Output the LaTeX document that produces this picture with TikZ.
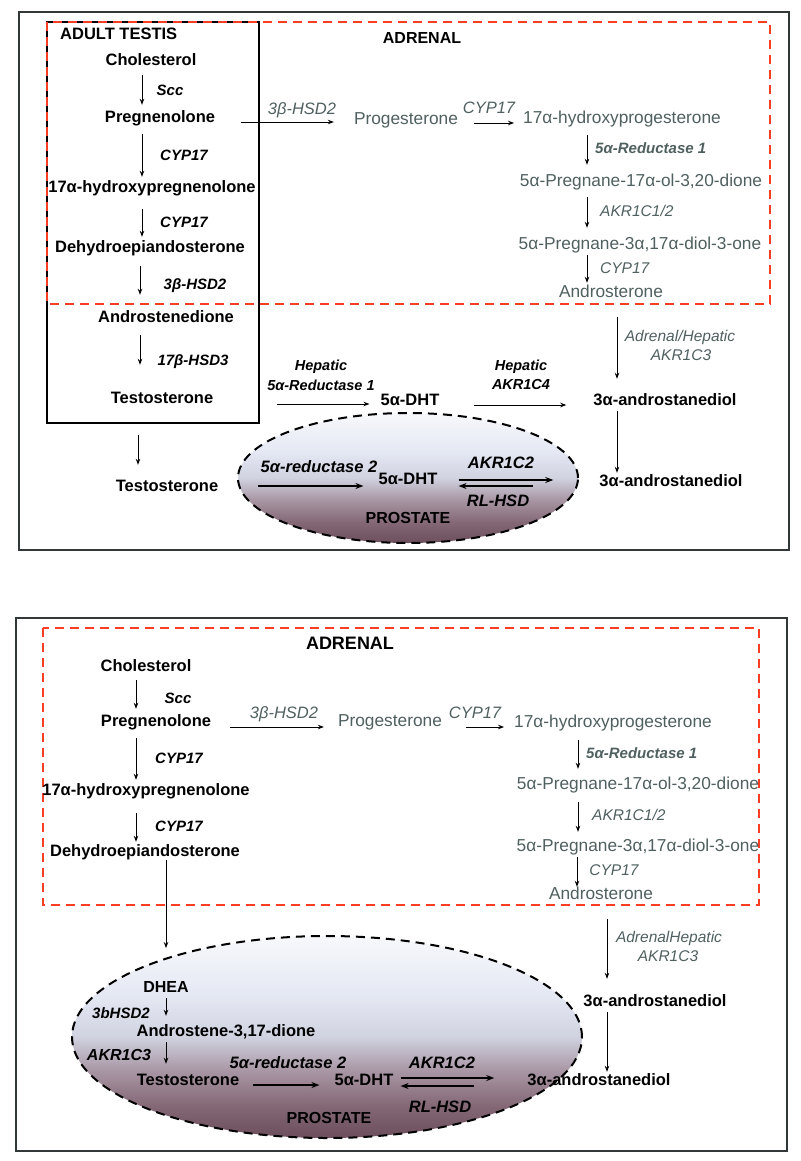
\documentclass[tikz,border=0pt]{standalone}
\usepackage{fontspec}
\setmainfont{Liberation Sans}
\usetikzlibrary{arrows.meta,shapes.geometric}
\definecolor{gtxt}{RGB}{80,96,96}
\definecolor{redd}{RGB}{250,62,35}
\definecolor{framec}{RGB}{50,55,55}
\definecolor{p0}{RGB}{108,78,92}
\definecolor{p1}{RGB}{132,104,118}
\definecolor{p2}{RGB}{170,152,166}
\definecolor{p3}{RGB}{208,210,224}
\definecolor{p4}{RGB}{228,232,243}
\definecolor{p5}{RGB}{247,248,251}
\pgfdeclareverticalshading{prost}{100bp}{color(0bp)=(p0); color(25bp)=(p0); color(33bp)=(p1); color(42bp)=(p2); color(50bp)=(p3); color(60bp)=(p4); color(75bp)=(p5); color(100bp)=(p5)}
\tikzset{
  cmp/.style={font=\bfseries\fontsize{16.5}{18}\selectfont, inner sep=0pt, text height=12pt, text depth=3.5pt},
  gcmp/.style={font=\fontsize{17.3}{19}\selectfont, text=gtxt, inner sep=0pt, text height=12pt, text depth=3.5pt},
  enz/.style={font=\bfseries\itshape\fontsize{15}{17}\selectfont, inner sep=0pt},
  penz/.style={font=\bfseries\itshape\fontsize{16.5}{18}\selectfont, inner sep=0pt},
  genz/.style={font=\itshape\fontsize{15.5}{17}\selectfont, text=gtxt, inner sep=0pt},
  genzh/.style={font=\itshape\fontsize{16.5}{18}\selectfont, text=gtxt, inner sep=0pt},
  genzb/.style={font=\bfseries\itshape\fontsize{15}{17}\selectfont, text=gtxt, inner sep=0pt},
  ttl/.style={font=\bfseries\fontsize{16.5}{18}\selectfont, inner sep=0pt},
  arr/.style={-{Stealth[length=6pt,width=4.5pt]}, line width=0.9pt},
  tarr/.style={-{Stealth[length=8pt,width=6pt]}, line width=2pt},
  redbox/.style={draw=redd, line width=1.8pt, dash pattern=on 9pt off 6pt},
  outerbox/.style={draw=framec, line width=1.3pt},
  prostbox/.style={ellipse, inner sep=0pt, draw=black, line width=2pt, dash pattern=on 9pt off 6pt, shade, shading=prost}
}
\begin{document}
\begin{tikzpicture}[x=1pt,y=-1pt]
\useasboundingbox (0,0) rectangle (800,1161);
\fill[white] (0,0) rectangle (800,1161);

%% ================= TOP PANEL =================
\draw[outerbox] (19,12) rectangle (789,550);
\draw[black, line width=2pt] (47,22) rectangle (259,423);
\draw[redbox] (47,22) rectangle (770,304);
\node[prostbox, minimum width=340pt, minimum height=130pt] (pros1) at (408,478) {};

\node[ttl, anchor=west] (testis) at (60,34) {ADULT TESTIS};
\node[ttl, font=\bfseries\fontsize{16}{18}\selectfont] (adr1) at (422,38) {ADRENAL};

\node[cmp] (chol1) at (151,61) {Cholesterol};
\node[cmp] (preg1) at (160,118) {Pregnenolone};
\node[cmp] (ohpreg1) at (152,188) {17α-hydroxypregnenolone};
\node[cmp] (dhea1) at (150,248) {Dehydroepiandosterone};
\node[cmp] (andro1) at (166,318) {Androstenedione};
\node[cmp] (testo1) at (162,399) {Testosterone};
\node[cmp] (testo1b) at (167,487) {Testosterone};

\node[enz] (e1) at (170,90) {Scc};
\node[enz] (e2) at (184,155) {CYP17};
\node[enz] (e3) at (184,222) {CYP17};
\node[enz] (e4) at (195,286) {3β-HSD2};
\node[enz] (e5) at (193,362) {17β-HSD3};

\coordinate (xa) at (142,0);
\coordinate (xb) at (140,0);
\coordinate (xc) at (138,0);
\draw[arr, shorten <=6.25pt, shorten >=5.25pt] (chol1.south -| xa) -- (preg1.north -| xa);
\draw[arr, shorten <=8.25pt, shorten >=3.25pt] (preg1.south -| xa) -- (ohpreg1.north -| xa);
\draw[arr, shorten <=13.25pt, shorten >=3.25pt] (ohpreg1.south -| xa) -- (dhea1.north -| xa);
\draw[arr, shorten <=10.25pt, shorten >=15.25pt] (dhea1.south -| xb) -- (andro1.north -| xb);
\draw[arr, shorten <=9.25pt, shorten >=26.25pt] (andro1.south -| xb) -- (testo1.north -| xb);
\draw[arr, shorten <=28.25pt, shorten >=14.25pt] (testo1.south -| xc) -- (testo1b.north -| xc);

% adrenal (grey) pathway
\node[gcmp] (prog1) at (406,120) {Progesterone};
\node[gcmp] (ohprog1) at (622,119) {17α-hydroxyprogesterone};
\node[gcmp] (pdione1) at (641,182) {5α-Pregnane-17α-ol-3,20-dione};
\node[gcmp] (pdiol1) at (640,245) {5α-Pregnane-3α,17α-diol-3-one};
\node[gcmp] (androst1) at (611,293) {Androsterone};

\node[genzh] (g1) at (302,110) {3β-HSD2};
\node[genzh] (g2) at (489,108) {CYP17};
\node[genzb, anchor=west] (g3) at (595,148) {5α-Reductase 1};
\node[genz, anchor=west] (g4) at (600,211) {AKR1C1/2};
\node[genz, anchor=west] (g5) at (600,268) {CYP17};
\node[genz] (g6) at (680,337) {Adrenal/Hepatic};
\node[genz] (g7) at (681,355) {AKR1C3};

\coordinate (ya) at (0,122);
\coordinate (yb) at (0,123);
\coordinate (xd) at (587,0);
\coordinate (xe) at (617,0);
\draw[arr, shorten <=26pt, shorten >=20pt] (preg1.east |- ya) -- (prog1.west |- ya);
\draw[arr, shorten <=16pt, shorten >=9pt] (prog1.east |- yb) -- (ohprog1.west |- yb);
\draw[arr, shorten <=8.25pt, shorten >=9.25pt] (ohprog1.south -| xd) -- (pdione1.north -| xd);
\draw[arr, shorten <=7.25pt, shorten >=9.25pt] (pdione1.south -| xd) -- (pdiol1.north -| xd);
\draw[arr, shorten <=2.25pt, shorten >=2.25pt] (pdiol1.south -| xd) -- (androst1.north -| xd);

\node[cmp] (aad1) at (665,401) {3α-androstanediol};
\node[cmp] (aad2) at (671,482) {3α-androstanediol};
\draw[arr, shorten <=16.25pt, shorten >=14.25pt] (androst1.south -| xe) -- (aad1.north -| xe);
\draw[arr, shorten <=2.25pt, shorten >=1.25pt] (aad1.south -| xe) -- (aad2.north -| xe);

\node[enz, font=\bfseries\itshape\fontsize{14.5}{16}\selectfont] (h1) at (321,367) {Hepatic};
\node[enz, font=\bfseries\itshape\fontsize{14.5}{16}\selectfont] (h2) at (321,385) {5α-Reductase 1};
\node[enz, font=\bfseries\itshape\fontsize{14.5}{16}\selectfont] (h3) at (521,367) {Hepatic};
\node[enz, font=\bfseries\itshape\fontsize{14.5}{16}\selectfont] (h4) at (521,385) {AKR1C4};
\node[cmp] (dht1) at (410,401) {5α-DHT};
\coordinate (yc) at (0,404);
\coordinate (yd) at (0,405);
\draw[arr, shorten <=64pt, shorten >=11pt] (testo1.east |- yc) -- (dht1.west |- yc);
\draw[arr, shorten <=34pt, shorten >=27pt] (dht1.east |- yd) -- (aad1.west |- yd);

% prostate (top)
\node[cmp] (dht2) at (408,480) {5α-DHT};
\node[penz] (p1) at (319,467) {5α-reductase 2};
\node[penz] (p2) at (501,463) {AKR1C2};
\node[penz] (p3) at (498,501) {RL-HSD};
\node[ttl, font=\bfseries\fontsize{16}{18}\selectfont] (pl1) at (408,518) {PROSTATE};
\coordinate (ye) at (0,486);
\coordinate (yf) at (0,480);
\draw[tarr, shorten <=40pt, shorten >=15pt] (testo1b.east |- ye) -- (dht2.west |- ye);
\draw[tarr, shorten <=21pt, shorten >=46pt] (dht2.east |- yf) -- (aad2.west |- yf);
\draw[tarr, shorten <=66pt, shorten >=21pt] (aad2.west |- ye) -- (dht2.east |- ye);

%% ================= BOTTOM PANEL =================
\draw[outerbox] (16,618) rectangle (787,1151);
\draw[redbox] (43,628) rectangle (759,905);
\node[prostbox, minimum width=510pt, minimum height=202pt] (pros2) at (327,1037) {};

\node[ttl, font=\bfseries\fontsize{18}{20}\selectfont] (adr2) at (350,643) {ADRENAL};

\node[cmp] (chol2) at (146,667) {Cholesterol};
\node[cmp] (preg2) at (156,722) {Pregnenolone};
\node[cmp] (ohpreg2) at (146,791) {17α-hydroxypregnenolone};
\node[cmp] (dhea2) at (145,852) {Dehydroepiandosterone};
\node[enz] (f1) at (178,698) {Scc};
\node[enz] (f2) at (179,758) {CYP17};
\node[enz] (f3) at (179,826) {CYP17};
\coordinate (xf) at (136,0);
\coordinate (xg) at (166,0);
\draw[arr, shorten <=5.25pt, shorten >=5.25pt] (chol2.south -| xf) -- (preg2.north -| xf);
\draw[arr, shorten <=8.25pt, shorten >=3.25pt] (preg2.south -| xf) -- (ohpreg2.north -| xf);
\draw[arr, shorten <=14.25pt, shorten >=2.25pt] (ohpreg2.south -| xf) -- (dhea2.north -| xf);

\node[gcmp] (prog2) at (390,722) {Progesterone};
\node[gcmp] (ohprog2) at (613,723) {17α-hydroxyprogesterone};
\node[gcmp] (pdione2) at (638,785) {5α-Pregnane-17α-ol-3,20-dione};
\node[gcmp] (pdiol2) at (638,847) {5α-Pregnane-3α,17α-diol-3-one};
\node[gcmp] (androst2) at (601,895) {Androsterone};
\node[genzh] (k1) at (284,714) {3β-HSD2};
\node[genzh] (k2) at (475,713) {CYP17};
\node[genzb, anchor=west] (k3) at (586,753) {5α-Reductase 1};
\node[genz, anchor=west] (k4) at (592,815) {AKR1C1/2};
\node[genz] (k5) at (614,870) {CYP17};
\node[genz] (k6) at (669,938) {AdrenalHepatic};
\node[genz] (k7) at (668,956) {AKR1C3};

\coordinate (yg) at (0,727);
\coordinate (xh) at (578,0);
\coordinate (xi) at (577,0);
\coordinate (xj) at (607,0);
\draw[arr, shorten <=19pt, shorten >=14pt] (preg2.east |- yg) -- (prog2.west |- yg);
\draw[arr, shorten <=24pt, shorten >=10pt] (prog2.east |- yg) -- (ohprog2.west |- yg);
\draw[arr, shorten <=9.25pt, shorten >=8.25pt] (ohprog2.south -| xh) -- (pdione2.north -| xh);
\draw[arr, shorten <=9.25pt, shorten >=7.25pt] (pdione2.south -| xh) -- (pdiol2.north -| xh);
\draw[arr, shorten <=2.25pt, shorten >=0.25pt] (pdiol2.south -| xi) -- (androst2.north -| xi);

\node[cmp] (aad3) at (655,1002) {3α-androstanediol};
\node[cmp] (aad4) at (599,1081) {3α-androstanediol};
\draw[arr, shorten <=16.25pt, shorten >=15.25pt] (androst2.south -| xj) -- (aad3.north -| xj);
\draw[arr, shorten <=2.25pt, shorten >=1.25pt] (aad3.south -| xj) -- (aad4.north -| xj);

% prostate (bottom)
\node[cmp, font=\bfseries\fontsize{16}{18}\selectfont] (dhea3) at (166,988) {DHEA};
\node[cmp] (adione) at (226,1032) {Androstene-3,17-dione};
\node[cmp] (testo2) at (188,1081) {Testosterone};
\node[cmp] (dht3) at (364,1081) {5α-DHT};
\node[penz, font=\bfseries\itshape\fontsize{15}{17}\selectfont] (q1) at (121,1013) {3bHSD2};
\node[penz, font=\bfseries\itshape\fontsize{16}{18}\selectfont] (q2) at (119,1055) {AKR1C3};
\node[penz] (q3) at (288,1063) {5α-reductase 2};
\node[penz] (q4) at (442,1063) {AKR1C2};
\node[penz] (q5) at (440,1107) {RL-HSD};
\node[ttl, font=\bfseries\fontsize{16}{18}\selectfont] (pl2) at (329,1118) {PROSTATE};

\draw[arr, shorten <=0pt, shorten >=32pt] (dhea2.south -| xg) -- (dhea3.north -| xg);
\draw[arr, shorten <=2.25pt, shorten >=8.25pt] (dhea3.south -| xg) -- (adione.north -| xg);
\draw[arr, shorten <=2.25pt, shorten >=9.25pt] (adione.south -| xg) -- (testo2.north -| xg);
\coordinate (yh) at (0,1085);
\coordinate (yi) at (0,1078);
\coordinate (yj) at (0,1086);
\draw[tarr, shorten <=14pt, shorten >=15pt] (testo2.east |- yh) -- (dht3.west |- yh);
\draw[tarr, shorten <=7pt, shorten >=33pt] (dht3.east |- yi) -- (aad4.west |- yi);
\draw[tarr, shorten <=53pt, shorten >=7pt] (aad4.west |- yj) -- (dht3.east |- yj);
\end{tikzpicture}
\end{document}
